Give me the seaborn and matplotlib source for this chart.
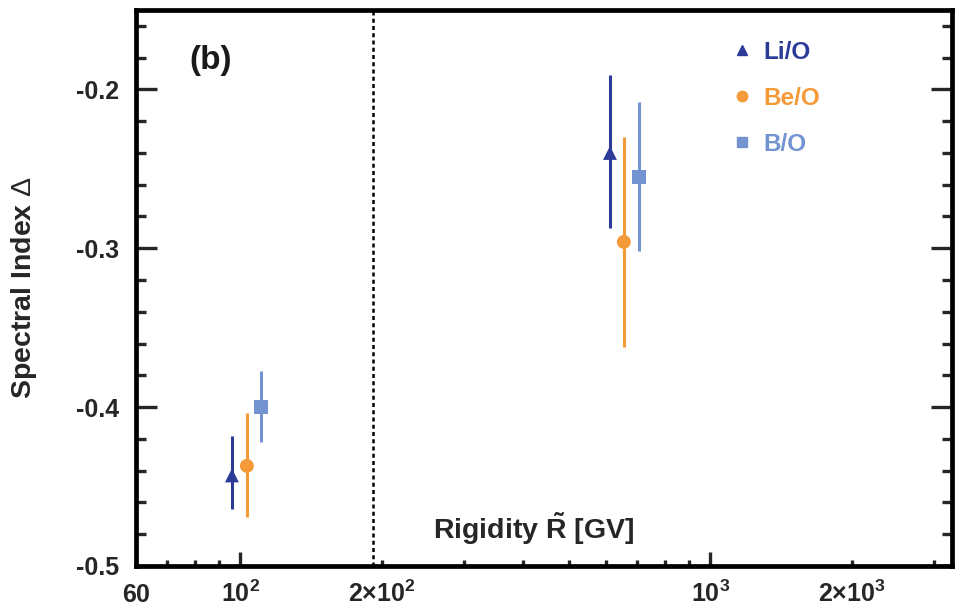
import matplotlib
matplotlib.use("Agg")
import matplotlib.pyplot as plt
import seaborn as sns
import pandas as pd
import numpy as np
from matplotlib.lines import Line2D

# ---- data ----
ratios = ["Li/O", "Be/O", "B/O"]
rig_low = [96.0, 103.3, 110.7]
rig_high = [612.0, 655.0, 705.0]
delta_low = [-0.443, -0.437, -0.400]
delta_low_hi = [-0.418, -0.404, -0.377]
delta_low_lo = [-0.464, -0.469, -0.422]
delta_high = [-0.240, -0.296, -0.255]
delta_high_hi = [-0.191, -0.230, -0.208]
delta_high_lo = [-0.287, -0.362, -0.302]
break_rigidity = 192.0

colors = {"Li/O": "#2c3b97", "Be/O": "#f59a38", "B/O": "#7393d1"}
markers = {"Li/O": "^", "Be/O": "o", "B/O": "s"}

xmajor = [100, 1000]
xmajor_labels = [r"$\mathbf{10^2}$", r"$\mathbf{10^3}$"]
xminor = [60, 70, 80, 90, 200, 300, 400, 500, 600, 700, 800, 900, 2000, 3000]
xminor_labels = [r"$\mathbf{60}$", "", "", "", r"$\mathbf{2{\times}10^2}$", "", "", "", "", "", "", "",
                 r"$\mathbf{2{\times}10^3}$", ""]
ymajor = [-0.5, -0.4, -0.3, -0.2]
ymajor_labels = ["-0.5", "-0.4", "-0.3", "-0.2"]

rows = []
for i, r in enumerate(ratios):
    rows.append(dict(ratio=r, R=rig_low[i], d=delta_low[i], hi=delta_low_hi[i], lo=delta_low_lo[i]))
    rows.append(dict(ratio=r, R=rig_high[i], d=delta_high[i], hi=delta_high_hi[i], lo=delta_high_lo[i]))
df = pd.DataFrame(rows)

sns.set_theme(style="ticks")
plt.rcParams["font.family"] = ["Liberation Sans", "DejaVu Sans"]
plt.rcParams["font.weight"] = "bold"
plt.rcParams["mathtext.fontset"] = "custom"
plt.rcParams["mathtext.rm"] = "Liberation Sans:normal"
plt.rcParams["mathtext.bf"] = "Liberation Sans:bold"
plt.rcParams["mathtext.it"] = "Liberation Sans:italic:normal"

fig = plt.figure(figsize=(9.57, 6.12), dpi=100)
ax = fig.add_axes([0.1421, 0.0752, 0.9948 - 0.1421, 0.9837 - 0.0752])
ax.set_xscale("log")

for r in ratios:
    sub = df[df.ratio == r]
    ax.vlines(sub.R, sub.lo, sub.hi, color=colors[r], lw=2.2, zorder=2)

sns.scatterplot(data=df, x="R", y="d", hue="ratio", style="ratio",
                palette=colors, markers=markers, s=100, edgecolor="none",
                legend=False, ax=ax, zorder=3)

ax.axvline(break_rigidity, color="black", lw=1.8, ls=(0, (1.6, 1.3)), zorder=1)

ax.set_xlim(60, 3270)
ax.set_ylim(-0.5, -0.15)

ax.set_xticks(xmajor, labels=xmajor_labels)
ax.set_xticks(xminor, labels=xminor_labels, minor=True)
ax.set_yticks(ymajor, labels=ymajor_labels)
ax.set_yticks(np.arange(-0.5, -0.149, 0.02), minor=True)

for s in ax.spines.values():
    s.set_linewidth(3.4)
    s.set_color("black")

ax.tick_params(axis="x", which="major", direction="in", length=10, width=2.4,
               labelsize=18, pad=26, top=False)
ax.tick_params(axis="x", which="minor", direction="in", length=4, width=2.4,
               labelsize=18, pad=26, top=False)
ax.tick_params(axis="y", which="major", direction="in", length=15, width=2.4,
               labelsize=18, pad=12, right=True)
ax.tick_params(axis="y", which="minor", direction="in", length=7.5, width=2.4,
               right=True)
for lab in ax.get_xticklabels(which="both"):
    lab.set_fontweight("bold")
    lab.set_va("baseline")
for lab in ax.get_yticklabels():
    lab.set_fontweight("bold")

ax.set_ylabel(r"Spectral Index $\Delta$", fontsize=20.5, fontweight="bold", va="center")
ax.yaxis.set_label_coords(-0.137, 0.5)
ax.set_xlabel(r"Rigidity $\mathbf{\tilde{R}}$ [GV]", fontsize=20.5, fontweight="bold", va="center")
ax.xaxis.set_label_coords(0.488, 0.067)

ax.text(0.066, 0.91, "(b)", transform=ax.transAxes, fontsize=24, fontweight="bold",
        ha="left", va="center", color="#1a1a1a")

handles = [Line2D([], [], ls="none", marker=markers[r], color=colors[r], markersize=7.5)
           for r in ratios]
leg = ax.legend(handles, ratios, loc="upper left", bbox_to_anchor=(0.72, 0.962),
                frameon=False, fontsize=17.5, handlelength=0.7, handletextpad=0.55,
                labelspacing=0.95, borderaxespad=0)
for t, r in zip(leg.get_texts(), ratios):
    t.set_color(colors[r])
    t.set_fontweight("bold")

fig.savefig("out.png", dpi=100)
